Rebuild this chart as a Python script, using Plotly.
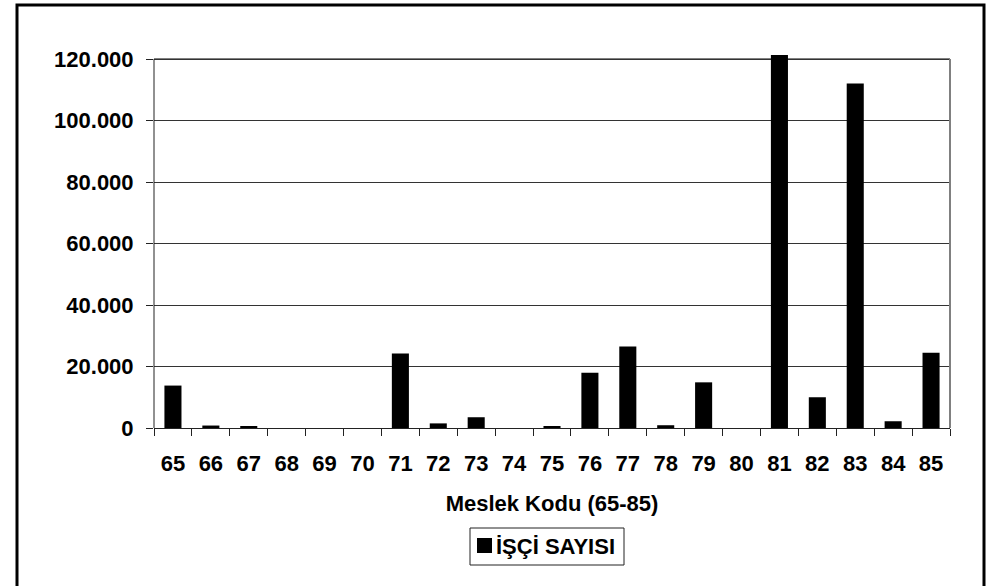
import plotly.graph_objects as go

codes = [str(c) for c in range(65, 86)]
isci_sayisi = [13800, 800, 450, 0, 0, 0, 24200, 1500, 3500, 0, 550,
               18000, 26500, 900, 14850, 0, 121300, 10000, 112000, 2200, 24500]
y_ticks = [0, 20000, 40000, 60000, 80000, 100000, 120000]
y_tick_labels = ["0", "20.000", "40.000", "60.000", "80.000", "100.000", "120.000"]
legend_label = "İŞÇİ SAYISI"
y_max = 120000

W, H = 986, 586
L, R, T, B = 154, 36, 54, 158
pw, ph = W - L - R, H - T - B
y_range_top = y_max * ph / 369.0

def px(x):
    return (x - L) / pw

def py(y):
    return (H - B - y) / ph

font_family = "Liberation Sans, Arial, sans-serif"
FS = 22

fig = go.Figure()
fig.add_trace(go.Bar(
    x=codes, y=isci_sayisi, name=legend_label, showlegend=False,
    marker=dict(color="black", line=dict(color="black", width=0)),
))

fig.update_layout(
    width=W, height=H,
    margin=dict(l=L, r=R, t=T, b=B, autoexpand=False),
    paper_bgcolor="white", plot_bgcolor="white",
    bargap=0.55,
    font=dict(family=font_family, size=FS, color="black"),
    showlegend=False,
    xaxis=dict(
        type="category", showgrid=False, showline=True, linecolor="#222", linewidth=1,
        ticks="outside", ticklen=7, tickcolor="#222", tickson="boundaries",
        tickfont=dict(size=FS, color="black"), ticklabelstandoff=16,
        title=dict(text="<b>Meslek Kodu (65-85)</b>", font=dict(size=FS), standoff=20),
        tickprefix="<b>", ticksuffix="</b>", automargin=False,
    ),
    yaxis=dict(
        range=[0, y_range_top], tickvals=y_ticks, ticktext=["<b>%s</b>" % t for t in y_tick_labels],
        showgrid=True, gridcolor="#333", gridwidth=1, zeroline=False,
        showline=False,
        ticks="outside", ticklen=7, tickcolor="#222",
        tickfont=dict(size=FS, color="black"), ticklabelstandoff=8, automargin=False,
    ),
    shapes=[
        dict(type="line", xref="paper", yref="y", x0=0, x1=0, y0=0, y1=y_max,
             line=dict(color="#222", width=1)),
        dict(type="line", xref="paper", yref="y", x0=0, x1=1, y0=y_max, y1=y_max,
             line=dict(color="#808080", width=2), layer="below"),
        dict(type="line", xref="paper", yref="y", x0=1, x1=1, y0=0, y1=y_max,
             line=dict(color="#808080", width=2)),
        dict(type="rect", xref="paper", yref="paper", x0=px(17), x1=px(984),
             y0=py(600), y1=py(5), line=dict(color="black", width=3), layer="below"),
        # legend box and key
        dict(type="rect", xref="paper", yref="paper", x0=px(470), x1=px(624),
             y0=py(565), y1=py(528), line=dict(color="#222", width=1), fillcolor="white"),
        dict(type="rect", xref="paper", yref="paper", x0=px(477), x1=px(492),
             y0=py(553), y1=py(538), line=dict(color="black", width=0), fillcolor="black"),
    ],
    annotations=[
        dict(text="<b>%s</b>" % legend_label, xref="paper", yref="paper",
             x=px(494), y=py(546.5), xanchor="left", yanchor="middle",
             showarrow=False, font=dict(size=FS, color="black")),
    ],
)

fig.write_html("out.html", config={"displayModeBar": False},
               post_script="document.body.style.margin='0';document.body.style.overflow='hidden';")
